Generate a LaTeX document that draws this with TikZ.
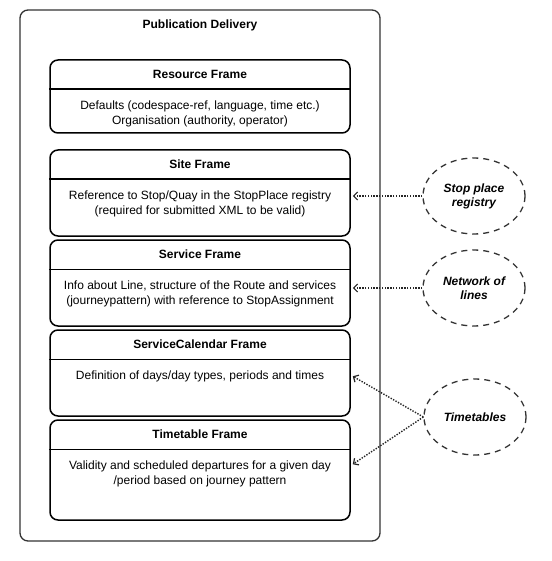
\documentclass[tikz,border=0pt]{standalone}
\usepackage{fontspec}
\setmainfont{Liberation Sans}
\usetikzlibrary{arrows.meta,shapes.geometric}

\newcommand{\NetexFrame}[5]{%
\node[frame,minimum height=#3] (#1) at (200,#2) {};
\draw[frame] ([yshift=-30]#1.north west) -- ([yshift=-30]#1.north east);
\node[title] (#1-title) at ([yshift=-19.5]#1.north) {#4};
\node[body] (#1-body) at ([yshift=-41]#1.north) {#5};
}

\begin{document}
\begin{tikzpicture}[x=1pt,y=-1pt,
  outer/.style={draw=black!80,line width=1.3pt,rounded corners=8pt,minimum width=360,minimum height=531},
  frame/.style={draw=black,line width=1.5pt,rounded corners=8pt,minimum width=300},
  title/.style={anchor=base,inner sep=0pt,font=\fontsize{12}{15}\selectfont\bfseries},
  body/.style={anchor=north,inner sep=0pt,align=center,font=\fontsize{12}{15}\selectfont},
  source/.style={ellipse,draw=black!80,line width=1.3pt,dash pattern=on 6pt off 5pt,minimum width=102,minimum height=76,align=center,font=\fontsize{12}{14}\selectfont\bfseries\itshape},
  ref/.style={draw=black!85,line width=1.4pt,dash pattern=on 1.4pt off 1.4pt,-{Straight Barb[length=4pt,width=8pt,line width=1.2pt]}}]
\useasboundingbox (0,0) rectangle (551,561);
\node[outer] (pd) at (200,275.5) {};
\node[title] (pd-title) at ([yshift=-19.5]pd.north) {Publication Delivery};
\NetexFrame{resource}{96.5}{73}{Resource Frame}{Defaults (codespace-ref, language, time etc.)\\Organisation (authority, operator)}
\NetexFrame{site}{193}{86}{Site Frame}{Reference to Stop/Quay in the StopPlace registry\\(required for submitted XML to be valid)}
\NetexFrame{service}{283}{86}{Service Frame}{Info about Line, structure of the Route and services\\(journeypattern) with reference to StopAssignment}
\NetexFrame{calendar}{373}{86}{ServiceCalendar Frame}{Definition of days/day types, periods and times}
\NetexFrame{timetable}{470}{100}{Timetable Frame}{Validity and scheduled departures for a given day\\/period based on journey pattern}
\node[source] (registry) at (474,196) {Stop place\\registry};
\node[source] (network) at (474,288) {Network of\\lines};
\node[source] (timetables) at (475,417) {Timetables};
\draw[ref] (registry.west) -- ([xshift=2]site.east |- registry.west);
\draw[ref] (network.west) -- ([xshift=2]service.east |- network.west);
\draw[ref] (timetables.west) -- ([xshift=2,yshift=-47]calendar.north east);
\draw[ref] (timetables.west) -- ([xshift=2,yshift=-45]timetable.north east);
\end{tikzpicture}
\end{document}
